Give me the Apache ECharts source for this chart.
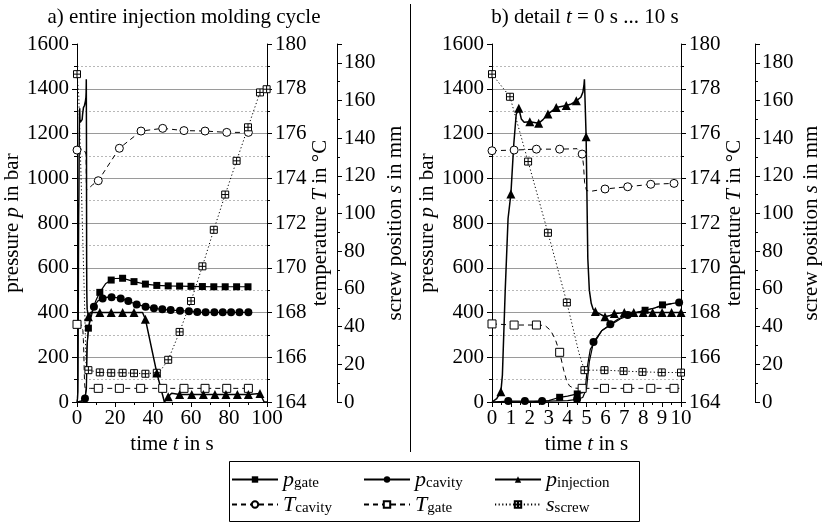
<!DOCTYPE html>
<html>
<head>
<meta charset="utf-8">
<script src="https://cdn.jsdelivr.net/npm/echarts@6/dist/echarts.min.js"></script>
<style>
  html, body { margin: 0; padding: 0; background: #fff; }
  #chart { width: 823px; height: 523px; }
</style>
</head>
<body>
<div id="chart"></div>
<script>
// ---- values: [time in s, value] ----
// b) detail 0 ... 10 s  (Line = curve points without marker, Marks = points with marker)
const bInjLine = [[0,0],[0.25,15],[0.55,120],[0.7,500],[0.85,820],[1.15,1150],[1.28,1285],[1.55,1265],[1.7,1250],[2.7,1262],[4.2,1332],[4.7,1362],[4.81,1385],[4.87,1420],[4.89,1442],[5.07,640],[5.15,500],[5.25,441],[5.35,415],[6.2,385],[6.8,398]];
const bInjMarks = [[0.47,46],[1.0,930],[1.42,1313],[2.0,1253],[2.47,1246],[2.96,1287],[3.4,1316],[3.93,1325],[4.46,1346],[4.98,1186],[5.47,404],[5.98,381],[6.47,395],[7.0,400],[7.5,400],[8.0,400],[8.5,400],[9.0,400],[9.5,400],[10,400]];
const bGateLine = [[0,0],[2.2,2],[3.0,6],[4.0,26],[4.8,42],[4.95,70],[5.05,160],[5.2,235],[5.8,318],[6.8,372],[7.6,398],[8.6,420],[9.5,440]];
const bGateMarks = [[3.58,21],[4.51,36],[8.1,410],[9.02,434]];
const bCavLine = [[0,0],[3.0,4],[4.0,6],[4.8,20],[5.0,60],[5.15,180],[5.8,318],[6.7,372],[7.6,400],[8.6,420],[9.5,440]];
const bCavMarks = [[0.86,4],[1.74,4],[2.65,4],[4.5,12],[5.37,268],[6.26,347],[7.18,389],[9.9,445]];
const bTcavLine = [[4.5,175.32],[4.84,174.6],[4.9,173.8],[5.0,173.45],[5.25,173.42],[10,173.78]];
const bTcavMarks = [[0,175.23],[1.17,175.26],[2.35,175.3],[3.58,175.3],[4.77,175.08],[5.98,173.52],[7.18,173.62],[8.4,173.73],[9.63,173.77]];
const bTgateLine = [[2.8,167.42],[3.1,167.2],[3.35,166.8],[3.8,165.4],[3.95,164.95],[4.1,164.72],[4.3,164.62],[10,164.61]];
const bTgateMarks = [[0,167.49],[1.17,167.44],[2.35,167.44],[3.58,166.22],[4.77,164.61],[5.95,164.61],[7.18,164.61],[8.4,164.61],[9.63,164.61]];
const bScrewLine = [[4.6,26]];
const bScrewMarks = [[0,174],[0.95,162],[1.91,127.6],[2.96,89.8],[3.96,52.8],[4.89,16.9],[5.95,16.9],[6.96,16.4],[7.96,16.0],[8.98,15.7],[10,15.6]];

// a) entire cycle 0 ... 100 s (first seconds come from the detail curves above)
const aInjLine = [[7,400],[34.5,400],[46,0],[49.8,39],[98.5,0],[100,0]];
const aInjMarks = [[6,381],[12,400],[18,400],[24,400],[30,400],[36,370],[42,130],[48,24],[54,34],[60.4,34],[66.5,34],[72.6,34],[78.4,34],[84.4,34],[90.2,34],[96.3,38]];
const aGateLine = [[9,432],[10,455],[15,528],[20,552],[27,546]];
const aGateMarks = [[6,330],[12,490],[18,545],[24,553],[30,538],[36,527],[42,521],[48,519],[54,518],[60,517],[66,516],[72,515],[78,515],[84,515],[90,515]];
const aCavLine = [[5.4,268],[6.3,347],[7.2,389],[11,452],[16,469],[20.5,467]];
const aCavMarks = [[4.2,16],[8.9,426],[13.5,463],[18.2,468],[23,463],[27,451],[31.4,436],[36.1,426],[40.5,419],[44.9,414],[49.3,411],[54.2,408],[58.9,406],[63.3,402],[67.7,401],[72.3,401],[76.7,401],[81.1,401],[85.5,401],[90.2,401]];
const aTcavMarks = [[0,175.26],[11.2,173.89],[22.3,175.34],[33.7,176.11],[45.1,176.23],[56.3,176.13],[67.4,176.11],[78.8,176.05],[90.2,176.05]];
const aTgateMarks = [[0,167.47],[11.2,164.61],[22.3,164.61],[33.5,164.61],[45.1,164.61],[56.3,164.61],[67.4,164.61],[78.8,164.61],[90.2,164.61]];
const aScrewLine = [[43.5,16]];
const aScrewMarks = [[0,174],[6,16.9],[12,15.7],[18,15.5],[24,15.5],[30,15.3],[36,15],[42,15.5],[48,22.4],[54,37.2],[60,53.6],[66,72],[72,91.4],[78,110.1],[84,128],[90,145.8],[96.3,164.3],[99.8,166]];

const pressureTicks = [0, 1600, 200];
const tempTicks = [164, 180, 2];
const screwTicks = [0, 190, 20];

const FONT = 'Liberation Serif';
const FS = 21;
const names = ['pgate', 'pcav', 'pinj', 'Tcav', 'Tgate', 'sscrew'];
const legendText = {
  pgate: '{v|p}{s|gate}', pcav: '{v|p}{s|cavity}', pinj: '{v|p}{s|injection}',
  Tcav: '{v|T}{s|cavity}', Tgate: '{v|T}{s|gate}', sscrew: '{v|s}{s|screw}'
};
const crossSquare = 'path://M0,0L10,0L10,10L0,10Z M5,0L5,10 M0,5L10,5';
const styles = {
  pgate:  { symbol: 'rect', size: 7, fill: '#000', type: 'solid', width: 1.2 },
  pcav:   { symbol: 'circle', size: 8, fill: '#000', type: 'solid', width: 1.2 },
  pinj:   { symbol: 'triangle', size: 9, fill: '#000', type: 'solid', width: 1.5 },
  Tcav:   { symbol: 'circle', size: 8, fill: '#fff', type: [5, 4], width: 1 },
  Tgate:  { symbol: 'rect', size: 8, fill: '#fff', type: [5, 4], width: 1 },
  sscrew: { symbol: crossSquare, size: 7, fill: '#fff', type: [1.2, 2.4], width: 1 }
};

// curve of panel a during the first seconds = detail curve
function early(line, marks, tMax) {
  return line.concat(marks).filter(p => p[0] > 0 && p[0] <= tMax);
}

function mk(name, xi, yi, line, marks) {
  const st = styles[name];
  const items = line.map(p => ({ value: p, symbol: 'none' }))
    .concat(marks.map(p => ({ value: p })));
  items.sort((a, b) => a.value[0] - b.value[0]);
  return {
    name, type: 'line', xAxisIndex: xi, yAxisIndex: yi, data: items,
    symbol: st.symbol, symbolSize: st.size, showSymbol: true, showAllSymbol: true,
    lineStyle: { color: '#000', width: st.width, type: st.type },
    itemStyle: { color: st.fill, borderColor: '#000', borderWidth: st.fill === '#fff' ? 1 : 0 },
    emphasis: { disabled: true }, animation: false
  };
}

const seriesList = [
  mk('Tcav', 0, 1, early(bTcavLine, bTcavMarks, 10), aTcavMarks),
  mk('Tgate', 0, 1, early(bTgateLine, bTgateMarks, 10), aTgateMarks),
  mk('sscrew', 0, 2, early(bScrewLine, bScrewMarks, 5).concat(aScrewLine), aScrewMarks),
  mk('pgate', 0, 0, [[0, 0]].concat(early(bGateLine, bGateMarks, 5.2), aGateLine), aGateMarks),
  mk('pcav', 0, 0, [[0, 0]].concat(early(bCavLine, bCavMarks, 5.15), aCavLine), aCavMarks),
  mk('pinj', 0, 0, [[0, 0]].concat(early(bInjLine, bInjMarks, 5.35), aInjLine), aInjMarks),
  mk('Tcav', 1, 4, bTcavLine, bTcavMarks),
  mk('Tgate', 1, 4, bTgateLine, bTgateMarks),
  mk('sscrew', 1, 5, bScrewLine, bScrewMarks),
  mk('pgate', 1, 3, bGateLine, bGateMarks),
  mk('pcav', 1, 3, bCavLine, bCavMarks),
  mk('pinj', 1, 3, bInjLine, bInjMarks)
];

const txt = { fontFamily: FONT, fontSize: FS, color: '#000' };
const rich = {
  n: { fontFamily: FONT, fontSize: FS, color: '#000' },
  i: { fontFamily: FONT, fontSize: FS, color: '#000', fontStyle: 'italic' }
};
const tick = { show: true, inside: false, length: 5, lineStyle: { color: '#000', width: 1 } };
const minorTick = { show: true, splitNumber: 2, length: 3, lineStyle: { color: '#000', width: 1 } };
const axisLine = { show: true, onZero: false, lineStyle: { color: '#000', width: 1 } };
const plain = v => String(v);

function xAx(grid, max, interval) {
  return {
    type: 'value', gridIndex: grid, min: 0, max, interval,
    axisLine, axisTick: tick, minorTick, splitLine: { show: false },
    axisLabel: { ...txt, margin: 6, formatter: plain },
    name: '{n|time }{i|t}{n| in s}', nameLocation: 'middle', nameGap: 27,
    nameTextStyle: { ...txt, rich }
  };
}
function pAx(grid) {
  return {
    type: 'value', gridIndex: grid, position: 'left',
    min: pressureTicks[0], max: pressureTicks[1], interval: pressureTicks[2],
    axisLine, axisTick: tick, minorTick,
    splitLine: { show: true, showMaxLine: false, showMinLine: false, lineStyle: { color: '#9a9a9a', width: 1 } },
    minorSplitLine: { show: true, lineStyle: { color: '#b8b8b8', width: 1, type: [2, 2] } },
    axisLabel: { ...txt, margin: 8, formatter: plain },
    name: '{n|pressure }{i|p}{n| in bar}', nameLocation: 'middle', nameRotate: 90, nameGap: 51,
    nameTextStyle: { ...txt, rich }
  };
}
function tAx(grid, gap) {
  return {
    type: 'value', gridIndex: grid, position: 'right',
    min: tempTicks[0], max: tempTicks[1], interval: tempTicks[2],
    axisLine, axisTick: tick, minorTick, splitLine: { show: false },
    axisLabel: { ...txt, margin: 8, formatter: plain },
    name: '{n|temperature }{i|T}{n| in °C}', nameLocation: 'middle', nameRotate: 90, nameGap: gap,
    nameTextStyle: { ...txt, rich }
  };
}
function sAx(grid, offset, gap) {
  return {
    type: 'value', gridIndex: grid, position: 'right', offset,
    min: screwTicks[0], max: screwTicks[1], interval: screwTicks[2],
    axisLine, axisTick: tick, minorTick, splitLine: { show: false },
    axisLabel: { ...txt, margin: 7, formatter: v => (v > 180 ? '' : String(v)) },
    name: '{n|screw position }{i|s}{n| in mm}', nameLocation: 'middle', nameRotate: 90, nameGap: gap,
    nameTextStyle: { ...txt, rich }
  };
}

const legendCols = [231, 363, 494];
const legendRows = [469, 494];
const legends = names.map((n, k) => ({
  data: [n], left: legendCols[k % 3], top: legendRows[Math.floor(k / 3)],
  itemWidth: 46, itemHeight: 8, padding: 0, selectedMode: false,
  formatter: v => legendText[v],
  textStyle: {
    fontFamily: FONT, fontSize: FS, color: '#000',
    rich: {
      v: { fontFamily: FONT, fontSize: 22, fontStyle: 'italic', color: '#000', lineHeight: 23, verticalAlign: 'bottom' },
      s: { fontFamily: FONT, fontSize: 15, color: '#000', lineHeight: 9, verticalAlign: 'bottom' }
    }
  }
}));

const chart = echarts.init(document.getElementById('chart'), null, { renderer: 'canvas' });
chart.setOption({
  backgroundColor: '#fff',
  animation: false,
  grid: [
    { left: 77, top: 44, width: 190, height: 358 },
    { left: 492, top: 44, width: 190, height: 358 }
  ],
  xAxis: [xAx(0, 100, 20), xAx(1, 10, 1)],
  yAxis: [pAx(0), tAx(0, 41), sAx(0, 70, 48), pAx(1), tAx(1, 43), sAx(1, 74, 46)],
  legend: legends,
  series: seriesList,
  graphic: [
    { type: 'line', shape: { x1: 410.5, y1: 4, x2: 410.5, y2: 452 }, style: { stroke: '#000', lineWidth: 1 } },
    { type: 'rect', shape: { x: 229.5, y: 461.5, width: 410, height: 60 }, style: { fill: 'none', stroke: '#000', lineWidth: 1 } },
    { type: 'text', x: 184, y: 17, style: { text: 'a) entire injection molding cycle', font: FS + 'px "Liberation Serif"', fill: '#000', align: 'center', verticalAlign: 'middle' } },
    { type: 'text', x: 585, y: 17, style: { text: '{n|b) detail }{i|t}{n| = 0 s ... 10 s}', font: FS + 'px "Liberation Serif"', fill: '#000', align: 'center', verticalAlign: 'middle', rich } }
  ]
});
</script>
</body>
</html>
